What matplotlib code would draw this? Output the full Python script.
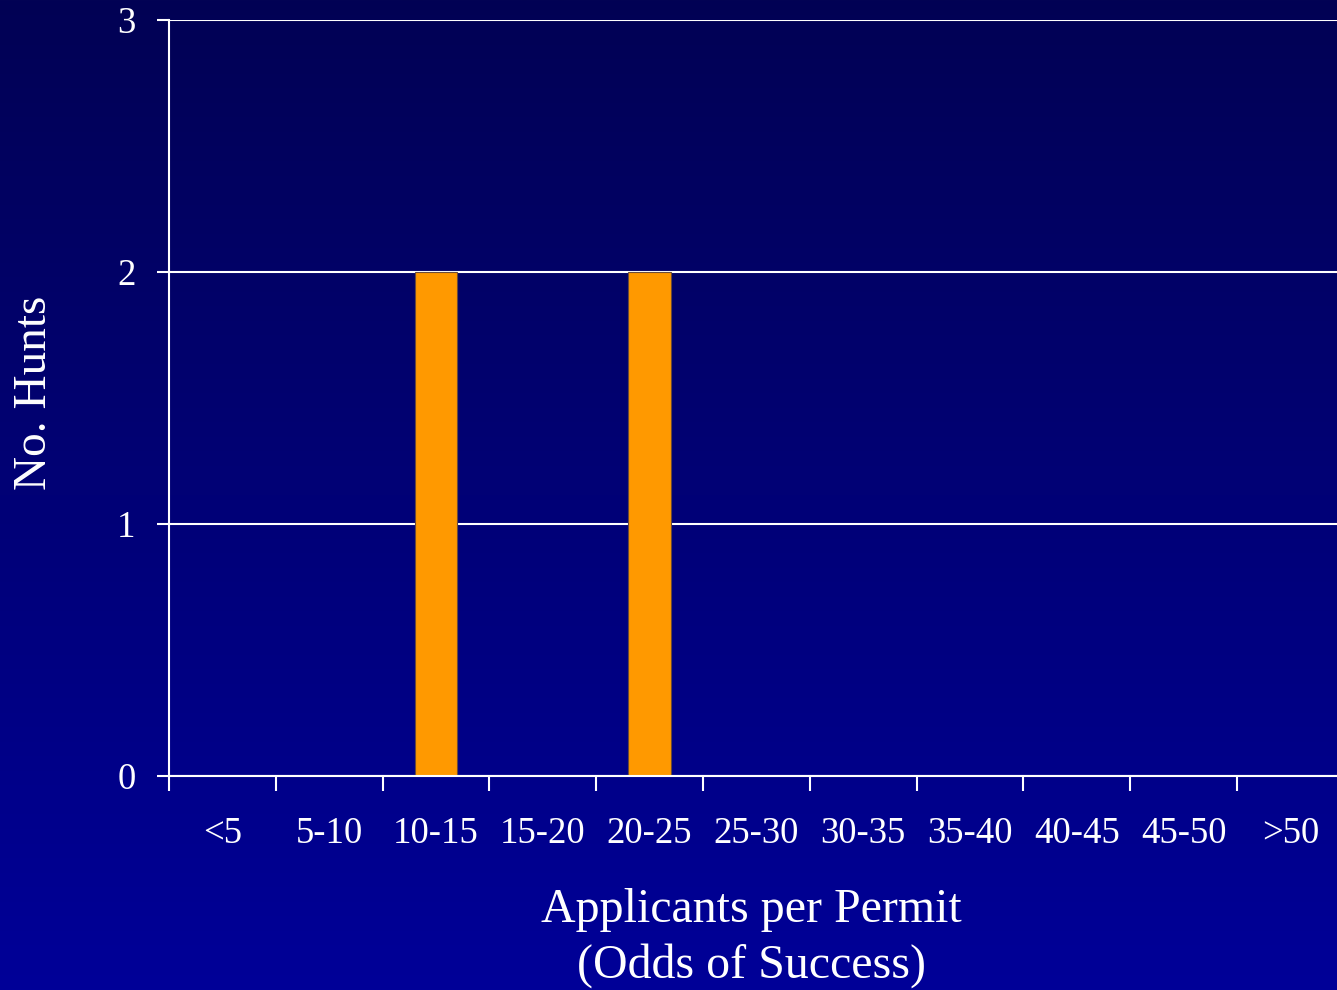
import numpy as np
import matplotlib
matplotlib.use("Agg")
import matplotlib.pyplot as plt

# Data
categories = ["<5", "5-10", "10-15", "15-20", "20-25", "25-30",
              "30-35", "35-40", "40-45", "45-50", ">50"]
hunts = [0, 0, 2, 0, 2, 0, 0, 0, 0, 0, 0]
y_ticks = [0, 1, 2, 3]

plt.rcParams["font.family"] = ["Liberation Serif", "DejaVu Serif"]

W, H, DPI = 1337, 990, 100
fig = plt.figure(figsize=(W / DPI, H / DPI), dpi=DPI)

# Vertical gradient background, dark navy at the top to royal blue at the bottom
bg = fig.add_axes([0, 0, 1, 1], zorder=-10)
top = np.array([2, 2, 84]) / 255.0
bottom = np.array([0, 0, 152]) / 255.0
t = np.linspace(0, 1, 512)[:, None]
grad = (top[None, :] * (1 - t) + bottom[None, :] * t)[:, None, :]
bg.imshow(grad, aspect="auto", extent=[0, 1, 0, 1], origin="upper")
bg.set_axis_off()

# Plot area
left_px, bottom_px, top_px = 169, 776, 20
cat_w = 106.8
ax = fig.add_axes([left_px / W, (H - bottom_px) / H,
                   len(categories) * cat_w / W, (bottom_px - top_px) / H])
ax.set_facecolor("none")

x = np.arange(len(categories))
ax.bar(x, hunts, width=0.4, color="#FF9900", edgecolor="#6a4a3a",
       linewidth=0.8, zorder=3)

ax.set_xlim(-0.5, len(categories) - 0.5)
ax.set_ylim(0, 3)
ax.set_yticks(y_ticks)
ax.set_yticklabels([str(v) for v in y_ticks])

# Category boundaries carry the tick marks; labels sit at category centres
ax.set_xticks(np.arange(len(categories) + 1) - 0.5)
ax.set_xticklabels([])
ax.set_xticks(x, minor=True)
ax.set_xticklabels(categories, minor=True)
ax.tick_params(axis="x", which="major", length=11, width=1.5,
               color="white", direction="out")
ax.tick_params(axis="x", which="minor", length=0, pad=29,
               labelsize=26.5, labelcolor="white")
ax.tick_params(axis="y", length=9, width=1.5, color="white",
               direction="out", labelsize=26.5, labelcolor="white", pad=15)

ax.yaxis.grid(True, color="white", linewidth=1.5, zorder=1)
ax.set_axisbelow(True)

for side in ["top", "right"]:
    ax.spines[side].set_visible(False)
for side in ["left", "bottom"]:
    ax.spines[side].set_color("white")
    ax.spines[side].set_linewidth(1.5)
    ax.spines[side].set_zorder(4)

fig.text(751 / W, 1 - 910 / H, "Applicants per Permit", color="white",
         fontsize=34.5, ha="center", va="center")
fig.text(751 / W, 1 - 966 / H, "(Odds of Success)", color="white",
         fontsize=34.5, ha="center", va="center")
fig.text(35 / W, 1 - 393 / H, "No. Hunts", color="white", fontsize=34,
         ha="center", va="center", rotation=90)

fig.savefig("out.png", dpi=DPI)
